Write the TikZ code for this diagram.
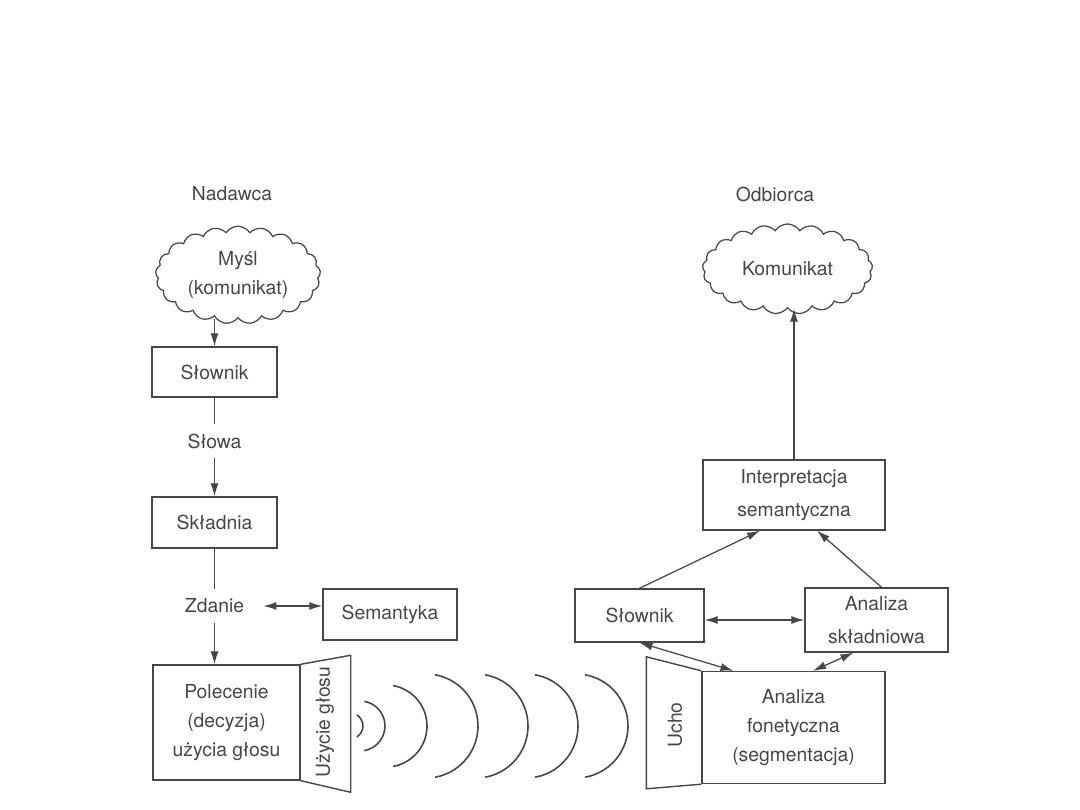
\documentclass[tikz,border=0pt]{standalone}
\usepackage{fontspec}
\setmainfont{TeX Gyre Heros}
\usepackage{tikz}
\usetikzlibrary{arrows.meta,shapes.symbols}
\definecolor{ink}{RGB}{70,70,70}

\begin{document}
\begin{tikzpicture}[
  font=\fontsize{11}{16.5}\selectfont,color=ink,
  box/.style={rectangle,draw=ink,line width=0.8pt,align=center,inner sep=0pt},
  idea/.style={cloud,cloud ignores aspect,draw=ink,line width=0.7pt,cloud puffs=21,cloud puff arc=115,align=center,inner sep=0pt},
  lbl/.style={inner sep=0.18cm},
  rim/.style={draw=ink,line width=0.8pt},
  link/.style={line width=0.7pt,ink},
  arr/.style={-{Latex[length=2.6mm,width=1.6mm]},line width=0.7pt,ink},
  darr/.style={{Latex[length=2.6mm,width=1.6mm]}-{Latex[length=2.6mm,width=1.6mm]},line width=0.7pt,ink},
  wave/.style={line width=0.9pt,ink}
]
\useasboundingbox (0,0) rectangle (21.6,16.2);
% nadawca
\node (nadawca) at (4.64,12.32) {Nadawca};
\node[idea,minimum width=3.3cm,minimum height=1.95cm] (mysl) at (4.76,10.7) {Myśl\\(komunikat)};
\node[box,minimum width=2.5cm,minimum height=1cm] (slownikN) at (4.29,8.76) {Słownik};
\node[lbl] (slowa) at (4.29,7.38) {Słowa};
\node[box,minimum width=2.5cm,minimum height=1.02cm] (skladnia) at (4.29,5.75) {Składnia};
\node[lbl] (zdanie) at (4.29,4.08) {Zdanie};
\node[box,minimum width=2.68cm,minimum height=1.02cm] (semantyka) at (7.8,3.91) {Semantyka};
\node[box,minimum width=2.94cm,minimum height=2.3cm] (polecenie) at (4.53,1.75) {Polecenie\\(decyzja)\\użycia głosu};
\draw[rim] (polecenie.north east) -- ++(1.0,0.18) -- ++(0,-2.74) -- (polecenie.south east);
\node[rotate=90] (glos) at (6.5,1.76) {Użycie głosu};
% odbiorca
\node (odbiorca) at (15.5,12.32) {Odbiorca};
\node[idea,minimum width=3.4cm,minimum height=1.8cm] (komunikat) at (15.75,10.82) {Komunikat};
\node[box,minimum width=3.64cm,minimum height=1.4cm] (interp) at (15.88,6.3) {Interpretacja\\[2pt]semantyczna};
\node[box,minimum width=2.58cm,minimum height=1.06cm] (slownikO) at (12.79,3.89) {Słownik};
\node[box,minimum width=2.86cm,minimum height=1.28cm] (skladniowa) at (17.53,3.8) {Analiza\\[2pt]składniowa};
\node[box,minimum width=3.66cm,minimum height=2.24cm] (fonet) at (15.87,1.65) {Analiza\\fonetyczna\\(segmentacja)};
\draw[rim] (fonet.north west) -- ++(-1.1,0.28) -- ++(0,-2.64) -- (fonet.south west);
\node[rotate=90] (ucho) at (13.5,1.7) {Ucho};
% fale dzwiekowe
\foreach \cx/\r/\t in {7.0/0.26/58,7.2/0.5/80,7.72/0.82/80,8.52/1.04/80,9.52/1.04/80,10.52/1.04/80,11.52/1.04/80}
  \draw[wave] (\cx,1.68) ++(-\t:\r) arc[start angle=-\t,end angle=\t,radius=\r];
% polaczenia
\draw[arr] (mysl.south -| slownikN.north) -- (slownikN.north);
\draw[link] (slownikN) -- (slowa);
\draw[arr] (slowa) -- (skladnia);
\draw[link] (skladnia) -- (zdanie);
\draw[arr] (zdanie.south) -- (zdanie.south |- polecenie.north);
\draw[darr] ([xshift=2mm]zdanie.east) -- (zdanie.east -| semantyka.west);
\draw[arr] (interp.north) -- (interp.north |- komunikat.south);
\draw[arr] (slownikO.north) -- ([xshift=-6.8mm]interp.south);
\draw[arr] ([xshift=1mm]skladniowa.north) -- ([xshift=4.6mm]interp.south);
\draw[darr] (skladniowa.west -| slownikO.east) -- (skladniowa.west);
\draw[darr] (slownikO.south) -- ([xshift=-12mm]fonet.north);
\draw[darr] ([xshift=-4.6mm]skladniowa.south) -- ([xshift=3.9mm]fonet.north);
\end{tikzpicture}
\end{document}
